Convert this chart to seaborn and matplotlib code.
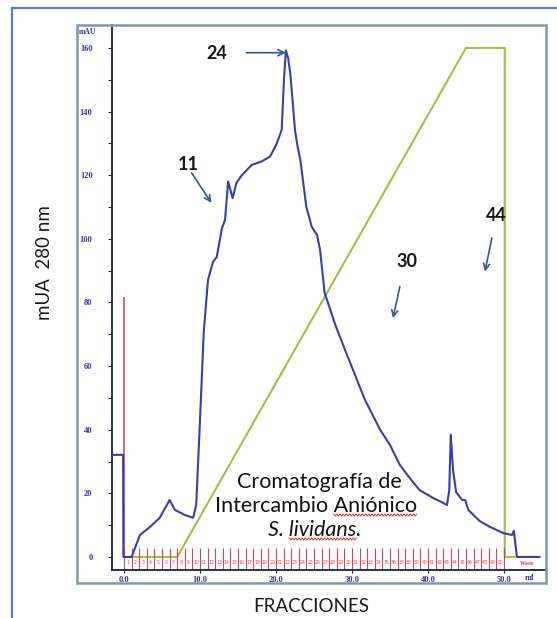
import numpy as np
import matplotlib
matplotlib.use("Agg")
import matplotlib.pyplot as plt
from matplotlib.lines import Line2D
from matplotlib.transforms import IdentityTransform
import seaborn as sns

# ---- UV trace at 280 nm (mAU) versus elution volume (ml) ----
volume_ml = [-1.5, -0.12, -0.08, 1.0, 2.1, 3.4, 4.7, 6.0, 6.7, 8.0, 9.1, 9.5, 10.0,
             10.5, 11.05, 11.7, 12.2, 12.9, 13.3, 13.7, 14.3, 14.8, 15.5, 16.8, 18.1,
             19.2, 19.7, 20.1, 20.75, 21.05, 21.3, 21.6, 21.9, 22.5, 22.8, 23.2, 24.0,
             24.7, 25.4, 25.8, 26.4, 27.8, 29.1, 30.4, 31.7, 33.7, 35.0, 36.3, 37.6,
             38.9, 40.7, 42.0, 42.5, 42.8, 43.0, 43.3, 43.7, 44.5, 44.9, 45.3, 46.8,
             48.2, 49.9, 51.05, 51.3, 51.45, 51.7, 54.7]
absorbance_mau = [32.1, 32.1, 0.0, 0.0, 6.9, 9.4, 12.3, 17.9, 14.8, 13.2, 12.3, 16.3, 43.0,
                  71.0, 87.0, 92.7, 94.3, 103.4, 106.0, 118.0, 112.8, 117.6, 120.0, 123.2, 124.3,
                  125.8, 128.0, 130.0, 134.2, 150.0, 159.2, 156.8, 151.5, 134.2, 129.5, 124.8, 110.0,
                  103.8, 101.2, 96.5, 83.0, 73.0, 65.0, 57.2, 49.4, 40.0, 35.2, 28.9, 24.8,
                  21.0, 18.5, 17.0, 16.3, 21.0, 38.4, 27.3, 20.4, 17.9, 17.9, 14.8, 11.3,
                  9.4, 7.5, 6.9, 8.2, 5.3, 0.0, 0.0]

# ---- salt gradient, drawn on the mAU scale (100 % B = 160) ----
gradient_ml = [0.0, 7.0, 45.0, 50.1, 50.1, 51.4]
gradient_level = [0.0, 0.0, 160.0, 160.0, 0.0, 0.0]

# ---- injection mark and collected fractions ----
injection_ml = -0.05
injection_height = 81.7
fraction_numbers = list(range(1, 51))
fraction_volume_ml = 1.0

# ---- axis ticks ----
y_major = [0, 20, 40, 60, 80, 100, 120, 140, 160]
y_minor = [10, 30, 50, 70, 90, 110, 130, 150]
x_major = [0, 10, 20, 30, 40, 50]
x_labels = ["0.0", "10.0", "20.0", "30.0", "40.0", "50.0"]

# ---- numbered fractions pointed at on the trace: (label, text pos, arrow tail, arrow head) ----
callouts = [
    ("24", (12.15, 158.1), (16.1, 158.5), (21.3, 158.5)),
    ("11", (8.4, 123.2), (8.9, 120.7), (11.5, 111.3)),
    ("30", (37.2, 92.8), (36.3, 85.0), (35.4, 75.1)),
    ("44", (49.0, 107.2), (48.4, 100.2), (47.5, 89.7)),
]

sns.set_theme(style="white")
plt.rcParams["font.family"] = ["Lato", "DejaVu Sans"]

W, H = 557, 618
fig = plt.figure(figsize=(W / 100, H / 100), dpi=100)
fig.patch.set_facecolor("white")


def fx(px):
    return px / W


def fy(py):
    return 1 - py / H


ax = fig.add_axes([fx(112), fy(570), (545 - 112) / W, (570 - 25) / H])
ax.set_facecolor("white")

blue = "#3a3ea6"
green = "#a2c043"
red = "#d9415f"
tick_blue = "#3434a0"

sns.lineplot(x=gradient_ml, y=gradient_level, ax=ax, color=green, lw=1.5,
             sort=False, estimator=None)
ax.vlines(injection_ml, 0, injection_height, color=red, lw=1.2, zorder=3)
sns.lineplot(x=volume_ml, y=absorbance_mau, ax=ax, color=blue, lw=1.5,
             sort=False, estimator=None, zorder=4)

# fraction collector marks along the baseline
frac_edges = [(n - 1) * fraction_volume_ml for n in fraction_numbers] + \
             [fraction_numbers[-1] * fraction_volume_ml]
ax.vlines(frac_edges, -4.1, 2.8, color=red, lw=0.8, zorder=2)
for n in fraction_numbers:
    ax.text((n - 0.5) * fraction_volume_ml, -1.7, str(n), color=red, fontsize=3.3,
            ha="center", va="center", family="DejaVu Sans", zorder=2)
ax.text(53.1, -2.0, "Waste", color=red, fontsize=4, ha="center", va="center",
        family="Liberation Serif", fontweight="bold")

ax.set_xlim(-1.58, 55.4)
ax.set_ylim(-4.1, 167.2)
ax.set_yticks(y_major)
ax.set_yticks(y_minor, minor=True)
ax.set_yticklabels([str(v) for v in y_major])
ax.set_xticks(x_major)
ax.set_xticklabels(x_labels)
ax.set_xlabel("")
ax.set_ylabel("")
ax.tick_params(axis="y", which="both", direction="out", length=3, width=0.8,
               color="#202040", labelsize=6, labelcolor=tick_blue, pad=11, left=True)
ax.tick_params(axis="x", which="both", direction="out", length=2, width=0.8,
               color="#202040", labelsize=6, labelcolor=tick_blue, pad=2, bottom=True)
for lab in ax.get_xticklabels() + ax.get_yticklabels():
    lab.set_family("Liberation Serif")
    lab.set_fontweight("bold")
for side in ("top", "right"):
    ax.spines[side].set_visible(False)
for side in ("left", "bottom"):
    ax.spines[side].set_color("#1e1e40")
    ax.spines[side].set_linewidth(1.3)

ax.text(53.4, -6.6, "ml", color=tick_blue, fontsize=6, ha="center", va="center",
        family="Liberation Serif", fontweight="bold", clip_on=False)
fig.text(fx(88), fy(32), "mAU", color=tick_blue, fontsize=5.5, ha="center",
         va="center", family="Liberation Serif", fontweight="bold")

# numbered fractions with arrows
for label, txt, tail, head in callouts:
    ax.text(txt[0], txt[1], label, fontsize=13, color="#161616", ha="center",
            va="center", fontweight="bold")
    ax.annotate("", xy=head, xytext=tail,
                arrowprops=dict(arrowstyle="->", color="#35588c", lw=1.2,
                                mutation_scale=11, shrinkA=0, shrinkB=0))

# frames around the plot
fig.add_artist(Line2D([fx(12), fx(12)], [fy(8), 0], color="#4f7fc4", lw=1.6,
                      transform=fig.transFigure))
fig.add_artist(Line2D([fx(12), 1], [fy(8), fy(8)], color="#4f7fc4", lw=1.6,
                      transform=fig.transFigure))
fig.add_artist(plt.Rectangle((fx(77), fy(583)), (546 - 77) / W, (583 - 25) / H,
                             fill=False, edgecolor="#8396a8", lw=1.8,
                             transform=fig.transFigure))

# axis titles
fig.text(fx(45), fy(263), "mUA  280 nm", rotation=90, fontsize=13.5, ha="center",
         va="center", color="#1a1a1a")
fig.text(fx(311), fy(606), "FRACCIONES", fontsize=13.5, ha="center", va="center",
         color="#1a1a1a")

# caption block inside the plot
cap_kw = dict(fontsize=15.5, ha="center", va="center", color="#111111")
t1 = fig.text(fx(319), fy(482), "Cromatografía de", **cap_kw)
t2 = fig.text(fx(316), fy(506), "Intercambio Aniónico", **cap_kw)
t3 = fig.text(fx(315), fy(530), "S. lividans.", style="italic", **cap_kw)

renderer = fig.canvas.get_renderer()


def text_width(s, **kw):
    tmp = fig.text(0, 0, s, **kw)
    w = tmp.get_window_extent(renderer).width
    tmp.remove()
    return w


def wavy(x0, x1, y):
    xs = np.arange(x0, x1, 1.6)
    ys = y + np.where(np.arange(len(xs)) % 2 == 0, 1.0, -1.0)
    fig.add_artist(Line2D(xs, ys, color="#e03030", lw=0.7, transform=IdentityTransform()))


bb2 = t2.get_window_extent(renderer)
w_an = text_width("Aniónico", **cap_kw)
wavy(bb2.x1 - w_an, bb2.x1, bb2.y0 + 1)
bb3 = t3.get_window_extent(renderer)
w_liv = text_width("lividans.", style="italic", **cap_kw)
w_dot = text_width(".", style="italic", **cap_kw)
wavy(bb3.x1 - w_liv, bb3.x1 - w_dot, bb3.y0 + 1)

fig.savefig("out.png", dpi=100, facecolor="white")
